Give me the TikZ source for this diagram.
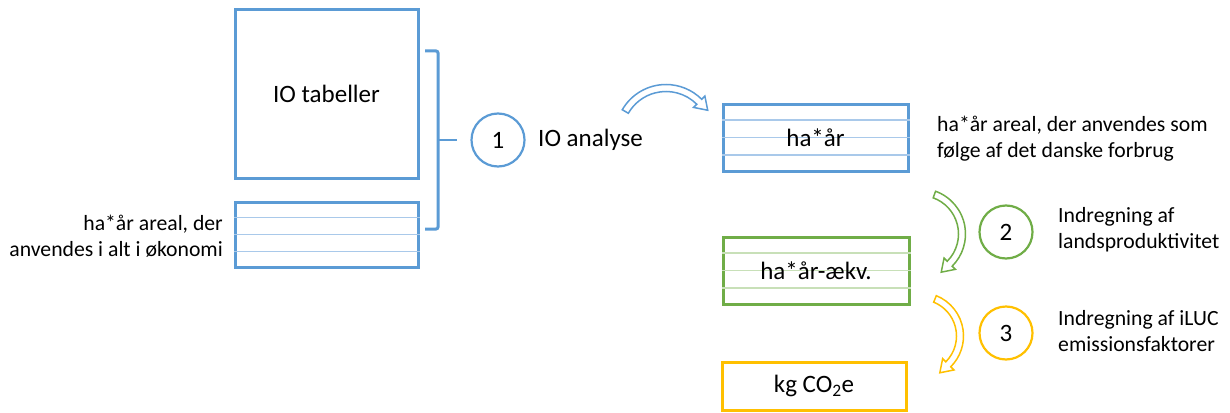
\documentclass[tikz,border=0pt]{standalone}
\usepackage{fontspec}
\setmainfont{Carlito}
\usetikzlibrary{calc}

\definecolor{ioblue}{HTML}{5B9BD5}
\definecolor{iobluelt}{HTML}{A9C9EA}
\definecolor{iogreen}{HTML}{70AD47}
\definecolor{iogreenlt}{HTML}{C8E0B8}
\definecolor{ioyellow}{HTML}{FFC000}

% hollow curved arrow: colour, centre, radius, start angle, end angle
\newcommand{\hollowarrow}[5]{%
  \draw[#1, line width=1.5pt, fill=white]
    ($(#2)+(#4:#3+3.5)$) arc[start angle=#4, end angle=#5, radius=#3+3.5]
    -- ($(#2)+(#5:#3+8)$) -- ($(#2)+(#5:#3)+(#5+90:12)$) -- ($(#2)+(#5:#3-8)$)
    -- ($(#2)+(#5:#3-3.5)$) arc[start angle=#5, end angle=#4, radius=#3-3.5] -- cycle;}

\begin{document}
\begin{tikzpicture}[x=1pt, y=-1pt,
  big/.style={font=\fontsize{25}{30}\selectfont},
  small/.style={font=\fontsize{21.7}{26}\selectfont},
  databox/.style={draw=#1, line width=3pt, inner sep=0pt, big},
  numcircle/.style={draw=#1, circle, line width=2.2pt, minimum size=53pt, inner sep=0pt, big},
  note/.style={small, align=left, anchor=west, inner sep=0pt}]
\useasboundingbox (0,0) rectangle (1230,412);

% left side
\node[databox=ioblue, minimum width=183pt, minimum height=168pt] (tab) at (326.5,94) {IO tabeller};
\node[databox=ioblue, minimum width=183pt, minimum height=65pt] (areal) at (326.5,234.5) {};
\foreach \f in {0.25,0.5,0.75}
  \draw[iobluelt, line width=1.2pt] ($(areal.north west)!\f!(areal.south west)$) -- ($(areal.north east)!\f!(areal.south east)$);
\node[small, align=right, anchor=east, inner sep=0pt] (arealtxt) at (223,236) {ha*år areal, der\\anvendes i alt i økonomi};

% bracket
\coordinate (brtip) at (438,140);
\draw[ioblue, line width=3pt, rounded corners=2pt] (425,51) -- (438,51) -- (438,229) -- (425,229);
\draw[ioblue, line width=2.4pt] (brtip) -- ++(19,0);

% step 1
\node[numcircle=ioblue] (c1) at (498,140) {1};
\node[big, anchor=west, inner sep=0pt] (ioa) at (538,140) {IO analyse};
\coordinate (arc1) at (666,135);
\hollowarrow{ioblue}{arc1}{47}{-150}{-45}

% results
\node[databox=ioblue, minimum width=185pt, minimum height=67pt] (ha) at (815.5,137.5) {};
\node[databox=iogreen, minimum width=186pt, minimum height=67pt] (haek) at (816,270.5) {};
\foreach \f in {0.25,0.5,0.75} {
  \draw[iobluelt, line width=1.2pt] ($(ha.north west)!\f!(ha.south west)$) -- ($(ha.north east)!\f!(ha.south east)$);
  \draw[iogreenlt, line width=1.2pt] ($(haek.north west)!\f!(haek.south west)$) -- ($(haek.north east)!\f!(haek.south east)$);
}
\node[big] at (ha) {ha*år};
\node[big] at (haek) {ha*år-ækv.};
\node[databox=ioyellow, minimum width=184pt, minimum height=48pt] (kg) at (814,386) {kg CO\textsubscript{2}e};
\node[note] (hatxt) at (937,139) {ha*år areal, der anvendes som\\følge af det danske forbrug};

% step 2
\coordinate (arc2) at (920,234);
\hollowarrow{iogreen}{arc2}{42}{-70}{45}
\node[numcircle=iogreen] (c2) at (1006,232) {2};
\node[note] (txt2) at (1058,230) {Indregning af\\landsproduktivitet};

% step 3
\coordinate (arc3) at (920,336);
\hollowarrow{ioyellow}{arc3}{40}{-68}{45}
\node[numcircle=ioyellow] (c3) at (1006,333) {3};
\node[note] (txt3) at (1058,331) {Indregning af iLUC\\emissionsfaktorer};
\end{tikzpicture}
\end{document}
